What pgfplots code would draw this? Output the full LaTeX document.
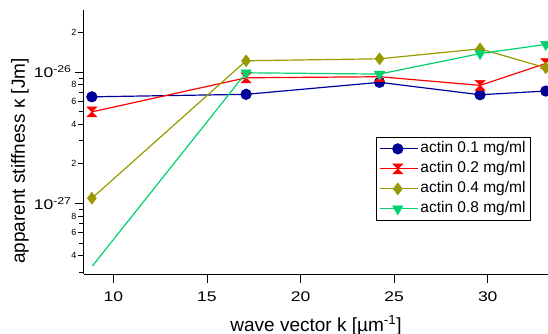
\documentclass[border=0pt]{standalone}
\usepackage{pgfplots}
\pgfplotsset{compat=1.18}
\usepackage{fontspec}
\setmainfont{Liberation Sans}
\newfontfamily\tickfont[FakeStretch=1.25]{Liberation Sans}
\definecolor{cblue}{RGB}{0,0,153}
\definecolor{cred}{RGB}{255,0,0}
\definecolor{colive}{RGB}{153,153,0}
\definecolor{cgreen}{RGB}{0,210,110}
\pgfdeclareplotmark{hourglass}{%
  \pgfpathmoveto{\pgfqpoint{-\pgfplotmarksize}{\pgfplotmarksize}}%
  \pgfpathlineto{\pgfqpoint{\pgfplotmarksize}{\pgfplotmarksize}}%
  \pgfpathlineto{\pgfqpoint{-\pgfplotmarksize}{-\pgfplotmarksize}}%
  \pgfpathlineto{\pgfqpoint{\pgfplotmarksize}{-\pgfplotmarksize}}%
  \pgfpathclose
  \pgfusepathqfillstroke}
\begin{document}
\begin{tikzpicture}[x=1pt,y=1pt]
\begin{axis}[
  scale only axis,
  width=464pt, height=264pt,
  at={(0,0)}, anchor=south west,
  ymode=log,
  xmin=8.43, xmax=33.22,
  ymin=2.9e-28, ymax=2.96e-26,
  axis lines*=left,
  axis line style={line width=1pt},
  clip=false,
  tick align=outside,
  tick style={black, line width=0.8pt},
  major tick length=9pt,
  minor tick length=5pt,
  /pgf/number format/assume math mode=true,
  xtick={10,15,20,25,30},
  xticklabel style={font=\tickfont\fontsize{14}{16}\selectfont, yshift=-5pt},
  ytick={1e-27,1e-26},
  yticklabels={10\textsuperscript{-27},10\textsuperscript{-26}},
  yticklabel style={font=\tickfont\fontsize{14}{16}\selectfont, xshift=0pt},
  extra y ticks={4e-28,6e-28,8e-28,2e-27,4e-27,6e-27,8e-27,2e-26},
  extra y tick labels={4,6,8,2,4,6,8,2},
  extra y tick style={major tick length=6pt, yticklabel style={font=\fontsize{9}{10}\selectfont, xshift=2pt}},
  minor ytick={3e-28,5e-28,7e-28,9e-28,3e-27,5e-27,7e-27,9e-27,3e-26},
  xlabel={wave vector k [µm\textsuperscript{-1}]},
  ylabel={apparent stiffness κ [Jm]},
  every axis x label/.style={at={(axis description cs:0.5,0)}, anchor=base, yshift=-57pt, font=\fontsize{19}{21}\selectfont},
  every axis y label/.style={at={(axis description cs:0,0.5)}, anchor=center, rotate=90, xshift=-19pt, yshift=64pt, font=\fontsize{19}{21}\selectfont},
  legend style={at={(rel axis cs:0.963,0.519)}, anchor=north east, draw=black, line width=0.7pt,
    font=\fontsize{15.5}{17}\selectfont, row sep=3pt, inner sep=3pt,
    nodes={inner sep=2pt, text height=10pt, text depth=3pt}},
  legend cell align=left,
  every axis plot/.append style={line width=1.2pt},
  legend image code/.code={%
    \path (-3pt,0pt) -- (35pt,0pt);
    \draw[mark=none, line width=1.2pt] (0pt,0pt) -- (30pt,0pt);
    \draw[mark indices={1}, line width=1.2pt] plot coordinates {(15pt,0pt)};},
]
\addplot[color=cblue, mark=*, mark size=5pt, mark options={fill=cblue}] coordinates {
(8.85,6.47e-27) (17.09,6.76e-27) (24.22,8.34e-27) (29.59,6.71e-27) (33.1,7.16e-27)};
\addlegendentry{actin 0.1 mg/ml}
\addplot[color=cred, mark=hourglass, mark size=5pt, mark options={fill=cred, line width=0.5pt}] coordinates {
(8.85,4.97e-27) (17.09,9.03e-27) (24.22,9.2e-27) (29.59,7.91e-27) (33.1,1.16e-26)};
\addlegendentry{actin 0.2 mg/ml}
\addplot[color=colive, mark=diamond*, mark size=6pt, mark options={fill=colive, line width=0.5pt}] coordinates {
(8.85,1.094e-27) (17.09,1.217e-26) (24.22,1.26e-26) (29.59,1.5e-26) (33.1,1.076e-26)};
\addlegendentry{actin 0.4 mg/ml}
\addplot[color=cgreen, mark=triangle*, mark size=6pt, mark options={fill=cgreen, rotate=180, line width=0.5pt}, mark indices={2,3,4,5}] coordinates {
(8.88,3.34e-28) (17.09,9.86e-27) (24.22,9.64e-27) (29.59,1.38e-26) (33.1,1.62e-26)};
\addlegendentry{actin 0.8 mg/ml}
\end{axis}
\pgfresetboundingbox
\useasboundingbox (-84pt,-60pt) rectangle (464pt,274pt);
\end{tikzpicture}
\end{document}
